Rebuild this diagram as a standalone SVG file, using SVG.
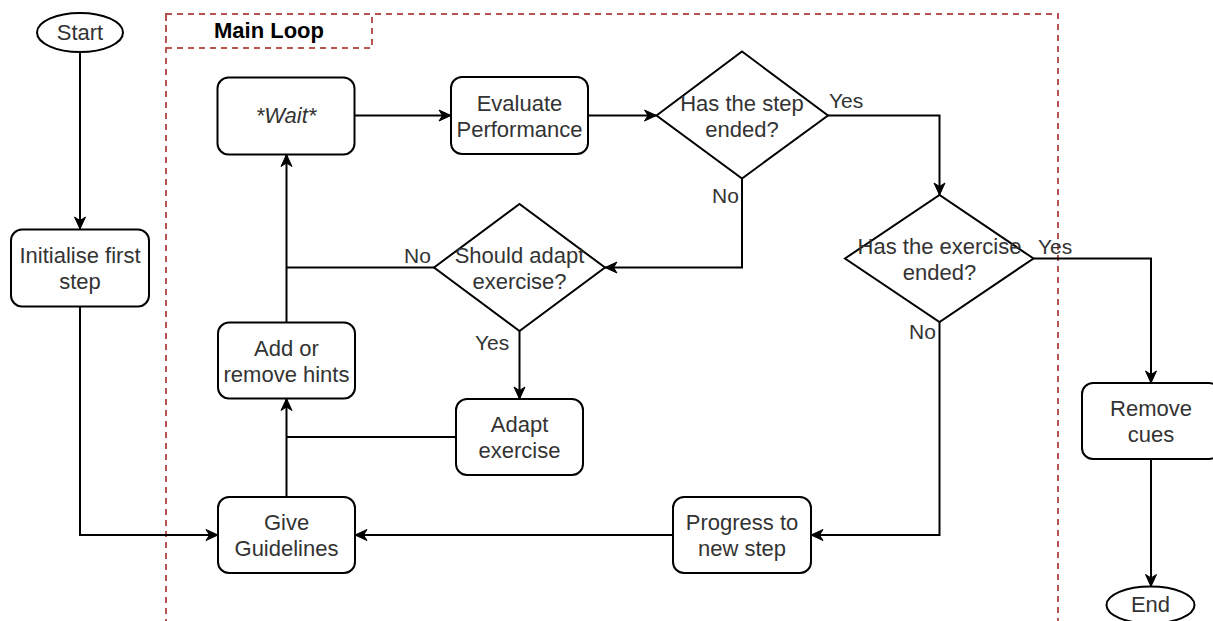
<svg xmlns="http://www.w3.org/2000/svg" width="1213" height="621" viewBox="0 0 1213 621">
<defs>
<style>
.n{fill:#fff;stroke:#000;stroke-width:2}
.t{font-family:"Liberation Sans",Arial,sans-serif;font-size:22px;fill:#333;text-anchor:middle}
.lb{font-family:"Liberation Sans",Arial,sans-serif;font-size:21px;fill:#333}
.c{fill:none;stroke:#000;stroke-width:2}
.a{marker-end:url(#arr)}
.d{fill:none;stroke:#b85450;stroke-width:2;stroke-dasharray:6 5}
</style>
<marker id="arr" markerUnits="userSpaceOnUse" markerWidth="13" markerHeight="12" refX="12" refY="6" orient="auto" overflow="visible">
<path d="M0,0.5 L12,6 L0,11.5 L3.5,6 Z" fill="#000" stroke="#000" stroke-width="1"/>
</marker>
</defs>
<rect width="1213" height="621" fill="#fff"/>

<g id="main-loop">
<rect class="d" x="166" y="14" width="892" height="640"/>
<rect class="d" x="166" y="14" width="206" height="34"/>
<text x="269" y="38" style="font-family:'Liberation Sans',Arial,sans-serif;font-size:22px;font-weight:bold;fill:#000" text-anchor="middle">Main Loop</text>
</g>

<g id="connectors">
<path class="c a" d="M80,52 L80,229"/>
<path class="c a" d="M80,306 L80,535 L218,535"/>
<path class="c a" d="M286.5,497 L286.5,398.5"/>
<path class="c" d="M456,437 L286.5,437"/>
<path class="c a" d="M286.5,322.5 L286.5,154.5"/>
<path class="c" d="M434,267.5 L286.5,267.5"/>
<path class="c a" d="M354.5,115.5 L451,115.5"/>
<path class="c a" d="M588,115.5 L656.5,115.5"/>
<path class="c a" d="M828,115.5 L939.5,115.5 L939.5,195"/>
<path class="c a" d="M742,178.5 L742,267.5 L605,267.5"/>
<path class="c a" d="M519.5,331 L519.5,399"/>
<path class="c a" d="M1033.5,258.5 L1151,258.5 L1151,383"/>
<path class="c a" d="M939.5,322 L939.5,535 L811,535"/>
<path class="c a" d="M673,535 L355,535"/>
<path class="c a" d="M1151,459 L1151,586.5"/>
<text class="lb" x="829" y="108">Yes</text>
<text class="lb" x="712" y="203">No</text>
<text class="lb" x="404" y="263">No</text>
<text class="lb" x="475" y="350">Yes</text>
<text class="lb" x="1038" y="254">Yes</text>
<text class="lb" x="909" y="339">No</text>
</g>

<g id="start">
<ellipse class="n" cx="80" cy="32.5" rx="43" ry="19.5"/>
<text class="t" x="80" y="40">Start</text>
</g>

<g id="init">
<rect class="n" x="11" y="229.5" width="138" height="77" rx="11"/>
<text class="t" x="80" y="263">Initialise first</text>
<text class="t" x="80" y="289">step</text>
</g>

<g id="wait">
<rect class="n" x="217.5" y="77.5" width="137" height="77" rx="11"/>
<text class="t" x="286" y="123" font-style="italic">*Wait*</text>
</g>

<g id="evaluate">
<rect class="n" x="451" y="77" width="137" height="77" rx="11"/>
<text class="t" x="519.5" y="110.5">Evaluate</text>
<text class="t" x="519.5" y="136.5">Performance</text>
</g>

<g id="step-ended">
<polygon class="n" points="656.5,115.5 742,51.5 828,115.5 742,178.5"/>
<text class="t" x="742" y="110.5">Has the step</text>
<text class="t" x="742" y="136.5">ended?</text>
</g>

<g id="exercise-ended">
<polygon class="n" points="845,258.5 939.5,195 1033.5,258.5 939.5,322"/>
<text class="t" x="939.5" y="253.5">Has the exercise</text>
<text class="t" x="939.5" y="279.5">ended?</text>
</g>

<g id="should-adapt">
<polygon class="n" points="434,267.5 519.5,204 605,267.5 519.5,331"/>
<text class="t" x="519.5" y="262.5">Should adapt</text>
<text class="t" x="519.5" y="288.5">exercise?</text>
</g>

<g id="hints">
<rect class="n" x="218" y="322.5" width="137" height="76" rx="11"/>
<text class="t" x="286.5" y="355.5">Add or</text>
<text class="t" x="286.5" y="381.5">remove hints</text>
</g>

<g id="adapt">
<rect class="n" x="456" y="399" width="127" height="76" rx="11"/>
<text class="t" x="519.5" y="432">Adapt</text>
<text class="t" x="519.5" y="458">exercise</text>
</g>

<g id="guidelines">
<rect class="n" x="218" y="497" width="137" height="76" rx="11"/>
<text class="t" x="286.5" y="530">Give</text>
<text class="t" x="286.5" y="556">Guidelines</text>
</g>

<g id="progress">
<rect class="n" x="673" y="497" width="138" height="76" rx="11"/>
<text class="t" x="742" y="530">Progress to</text>
<text class="t" x="742" y="556">new step</text>
</g>

<g id="remove-cues">
<rect class="n" x="1082" y="383" width="138" height="76" rx="11"/>
<text class="t" x="1151" y="416">Remove</text>
<text class="t" x="1151" y="442">cues</text>
</g>

<g id="end">
<ellipse class="n" cx="1150.5" cy="605" rx="44" ry="18.5"/>
<text class="t" x="1150.5" y="612">End</text>
</g>
</svg>
